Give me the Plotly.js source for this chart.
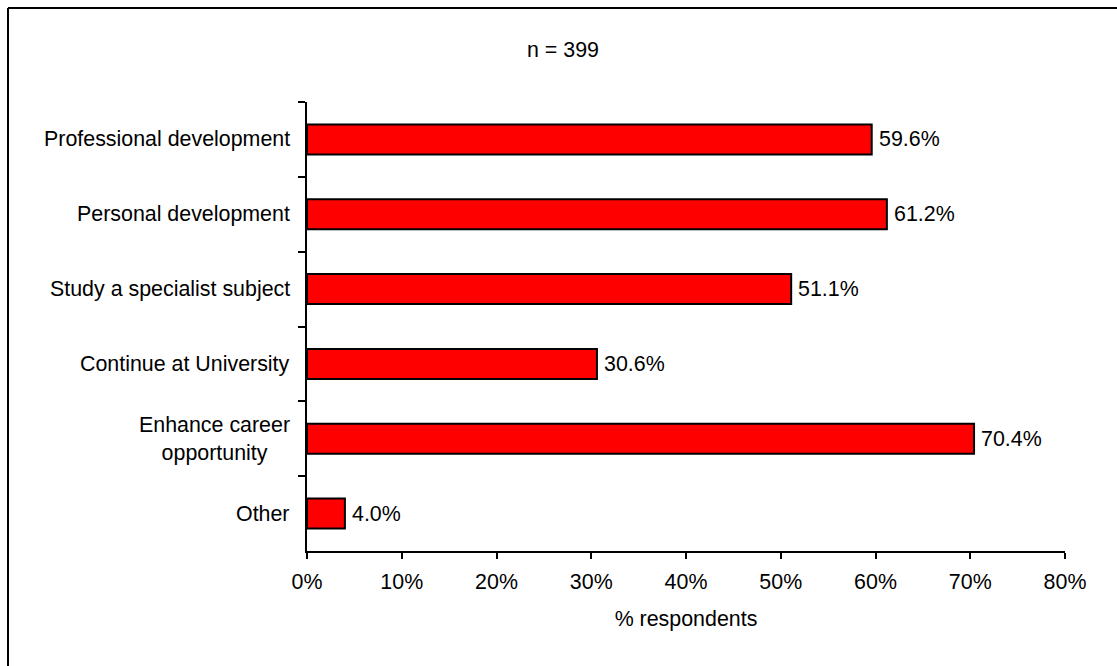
<!DOCTYPE html>
<html>
<head>
<meta charset="utf-8">
<script src="https://cdn.plot.ly/plotly-3.0.1.min.js"></script>
<style>html,body{margin:0;padding:0;background:#fff;}#chart{width:1117px;height:666px;}</style>
</head>
<body>
<div id="chart"></div>
<script>
var categories = ["Professional development", "Personal development", "Study a specialist subject", "Continue at University", "Enhance career<br>opportunity", "Other"];
var values = [59.6, 61.2, 51.1, 30.6, 70.4, 4.0];
var tickValues = [0, 10, 20, 30, 40, 50, 60, 70, 80];
var tickLabels = ["0%", "10%", "20%", "30%", "40%", "50%", "60%", "70%", "80%"];
var chartTitle = "n = 399";
var xTitle = "% respondents";

var FONT = "Liberation Sans, Arial, sans-serif";
var FS = 21.4;

var trace = {
  type: "bar",
  orientation: "h",
  x: values,
  y: categories,
  marker: {color: "#FF0000", line: {color: "#000000", width: 2}},
  hoverinfo: "x+y"
};

var annotations = [];
categories.forEach(function (c, i) {
  annotations.push({
    xref: "paper", yref: "y", x: 0, y: c, xanchor: "right", yanchor: "middle",
    xshift: -15, align: "center", showarrow: false, text: c,
    font: {family: FONT, size: FS, color: "#000"}
  });
  annotations.push({
    xref: "x", yref: "y", x: values[i], y: c, xanchor: "left", yanchor: "middle",
    xshift: 5, showarrow: false, text: values[i].toFixed(1) + "%",
    font: {family: FONT, size: FS, color: "#000"}
  });
});

var L = 307, R = 52, T = 102, B = 115, W = 1117, H = 666;
var pw = W - L - R, ph = H - T - B;
function px(x) { return (x - L) / pw; }
function py(y) { return (H - B - y) / ph; }

var layout = {
  width: W, height: H,
  margin: {l: L, r: R, t: T, b: B, pad: 0},
  paper_bgcolor: "#fff", plot_bgcolor: "#fff",
  font: {family: FONT, size: FS, color: "#000"},
  showlegend: false,
  bargap: 0.6,
  title: {text: chartTitle, xref: "container", yref: "container", x: 563 / W, y: 1 - 50 / H, xanchor: "center", yanchor: "middle", font: {family: FONT, size: FS, color: "#000"}},
  xaxis: {
    range: [0, 80], tickmode: "array", tickvals: tickValues, ticktext: tickLabels,
    showgrid: false, zeroline: false, showline: true, linecolor: "#000", linewidth: 2,
    ticks: "outside", ticklen: 6, tickwidth: 2, tickcolor: "#000",
    ticklabelstandoff: 4,
    tickfont: {family: FONT, size: FS, color: "#000"},
    title: {text: xTitle, standoff: 18, font: {family: FONT, size: FS, color: "#000"}},
    fixedrange: true
  },
  yaxis: {
    type: "category", autorange: "reversed", tickson: "boundaries",
    showticklabels: false, showgrid: false, zeroline: false,
    showline: true, linecolor: "#000", linewidth: 2,
    ticks: "outside", ticklen: 7, tickwidth: 2, tickcolor: "#000",
    fixedrange: true
  },
  annotations: annotations,
  shapes: [
    {type: "line", xref: "paper", yref: "paper", x0: px(8), x1: px(8), y0: py(8), y1: py(720), line: {color: "#000", width: 2}},
    {type: "line", xref: "paper", yref: "paper", x0: px(8), x1: px(1130), y0: py(8), y1: py(8), line: {color: "#000", width: 2}}
  ]
};

Plotly.newPlot("chart", [trace], layout, {displayModeBar: false, staticPlot: true});
</script>
</body>
</html>
